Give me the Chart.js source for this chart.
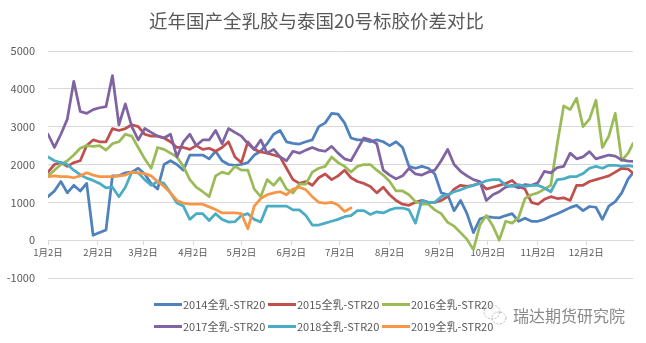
<!DOCTYPE html>
<html>
<head>
<meta charset="utf-8">
<script src="https://cdn.jsdelivr.net/npm/chart.js@4.4.1/dist/chart.umd.min.js"></script>
<style>
  html, body { margin: 0; padding: 0; background: #ffffff; }
  #wrap { position: relative; width: 646px; height: 343px; overflow: hidden; }
  #c { position: absolute; left: 0; top: 0; }
  .lg { position: absolute; height: 14px; font: 11px 'Noto Sans CJK SC', sans-serif; color: #595959; white-space: nowrap; }
  .lg .sw { position: absolute; left: 0; top: 6px; width: 28px; height: 3px; }
  .lg .tx { position: absolute; left: 29px; top: -1px; line-height: 16px; }
  #wm { position: absolute; left: 513px; top: 304px; font: 16px 'Noto Sans CJK SC', sans-serif; color: #8a8a8a; line-height: 22px; white-space: nowrap; }
  #wmi { position: absolute; left: 482px; top: 302px; }
</style>
</head>
<body>
<div id="wrap">
  <canvas id="c" width="646" height="343"></canvas>
  <div id="legend"></div>
  <svg id="wmi" width="28" height="26" viewBox="0 0 28 26">
    <ellipse cx="10" cy="10" rx="8" ry="7" fill="none" stroke="#b5b5b5" stroke-width="1" stroke-dasharray="2 1.5"/>
    <ellipse cx="17" cy="16" rx="7" ry="6" fill="none" stroke="#b5b5b5" stroke-width="1" stroke-dasharray="2 1.5"/>
  </svg>
  <div id="wm">瑞达期货研究院</div>
</div>
<script>
// ---- data ----
const titleText = '近年国产全乳胶与泰国20号标胶价差对比';
const tickDays = [1, 32, 60, 91, 121, 152, 182, 213, 244, 274, 305, 335];
const tickLabels = ['1月2日', '2月2日', '3月2日', '4月2日', '5月2日', '6月2日', '7月2日', '8月2日', '9月2日', '10月2日', '11月2日', '12月2日'];
const days = [1,5,9,13,17,21,25,29,33,37,41,45,49,53,57,61,65,69,73,77,81,85,89,93,97,101,105,109,113,117,
  121,125,129,133,137,141,145,149,153,157,161,165,169,173,177,181,185,189,193,197,201,205,209,213,217,221,225,229,233,237,
  241,245,249,253,257,261,265,269,273,277,281,285,289,293,297,301,305,309,313,317,321,325,329,333,337,341,345,349,353,357,
  361,364];
const seriesNames = ['2014全乳-STR20', '2015全乳-STR20', '2016全乳-STR20', '2017全乳-STR20', '2018全乳-STR20', '2019全乳-STR20'];
const v2014 = [1150,1300,1550,1250,1450,1300,1500,130,200,270,
  1700,1700,1780,1800,1900,1750,1500,1350,2000,2100,
  2000,1850,2250,2250,2250,2150,2350,2100,2000,1980,
  2000,2050,2250,2350,2550,2800,2900,2600,2560,2540,
  2600,2650,3000,3100,3350,3330,3100,2700,2650,2650,
  2600,2650,2600,2500,2600,2450,1950,1900,1950,1900,
  1750,1250,1200,780,1050,700,200,560,620,600,
  590,650,700,500,580,500,500,550,630,700,
  780,860,920,780,890,870,550,900,1020,1250,
  1620,1780];
const v2015 = [1800,2000,2050,1950,2050,2100,2500,2650,2600,2600,
  2950,2900,2950,3050,3000,2800,2750,2750,2700,2600,
  2450,2450,2400,2500,2400,2430,2350,2450,2600,2200,
  2050,2600,2400,2330,2300,2250,2200,1900,1600,1500,
  1550,1450,1650,1750,1600,1700,1850,1650,1550,1500,
  1420,1250,1400,1200,1050,950,920,1000,1050,1000,
  1000,1050,1150,1350,1450,1420,1450,1520,1350,1400,
  1450,1500,1580,1420,1350,1000,950,1080,1150,1100,
  1120,1050,1450,1450,1550,1600,1650,1700,1800,1900,
  1880,1770];
const v2016 = [1700,1850,2000,2100,2250,2430,2500,2480,2500,2380,
  2550,2600,2800,2750,2450,2150,1900,2450,2400,2300,
  2200,1950,1600,1400,1280,1150,1700,1800,1750,1950,
  1850,1850,1350,1150,1600,1450,1650,1350,1250,1480,
  1480,1800,1900,1950,2200,2050,1950,1800,1950,2000,
  2000,1850,1720,1550,1300,1300,1200,1020,950,950,
  800,700,470,370,200,20,-250,400,650,380,
  0,500,450,600,1100,1200,1250,1350,1450,2550,
  3550,3450,3750,3000,3200,3700,2450,2750,3350,2100,
  2300,2560];
const v2017 = [2800,2450,2800,3200,4200,3400,3350,3450,3500,3530,
  4350,3050,3600,3000,2650,2950,2850,2750,2700,2800,
  2200,2600,2800,2500,2650,2650,2900,2550,2950,2850,
  2750,2550,2400,2650,2300,2400,2200,2100,2350,2300,
  2380,2450,2380,2350,2480,2300,2150,2100,2400,2700,
  2650,2550,1850,1720,1620,1700,1900,1750,1720,1800,
  1850,2100,2400,2000,1820,1700,1600,1550,1050,1200,
  1280,1400,1450,1380,1470,1450,1520,1820,1780,1920,
  1950,2300,2150,2200,2340,2150,2200,2250,2220,2120,
  2090,2080];
const v2018 = [2200,2100,2050,2000,1850,1730,1640,1580,1500,1380,
  1400,1150,1400,1800,1780,1600,1450,1550,1500,1250,
  980,900,550,700,700,520,700,550,480,490,
  650,700,550,480,900,900,900,900,800,800,
  650,400,400,450,500,550,620,650,780,780,
  680,750,720,800,850,850,800,450,1050,1000,
  1000,1150,1200,1280,1330,1400,1450,1500,1570,1600,
  1600,1450,1420,1470,1420,1450,1450,1380,1280,1600,
  1620,1680,1680,1760,1900,1950,1900,1980,1980,1950,
  1970,1950];
const v2019 = [1680,1700,1680,1680,1650,1700,1780,1720,1680,1680,
  1680,1700,1720,1800,1780,1760,1700,1550,1420,1250,
  1050,980,950,950,950,880,810,720,720,720,
  700,300,900,1100,1200,1250,1280,1200,1350,1400,
  1330,1150,1000,980,1000,930,760,850];
const seriesValues = [v2014, v2015, v2016, v2017, v2018, v2019];
const seriesColors = ['#4F81BD', '#C0504D', '#9BBB59', '#8064A2', '#4BACC6', '#F79646'];
const yTicks = [-1000, 0, 1000, 2000, 3000, 4000, 5000];

// ---- chart ----
const CJK = "'Noto Sans CJK SC', 'Noto Sans', sans-serif";
const datasets = seriesValues.map((vals, k) => ({
  label: seriesNames[k],
  data: vals.map((v, i) => ({ x: days[i], y: v })),
  borderColor: seriesColors[k],
  backgroundColor: seriesColors[k],
  borderWidth: 2.75,
  pointRadius: 0,
  pointHoverRadius: 0,
  tension: 0,
  fill: false,
  borderJoinStyle: 'round',
  borderCapStyle: 'round',
  order: seriesValues.length - k
}));

new Chart(document.getElementById('c'), {
  type: 'line',
  data: { datasets },
  options: {
    responsive: false,
    animation: false,
    devicePixelRatio: 1,
    layout: { padding: { left: 0, right: 13, top: 0, bottom: 65 } },
    plugins: {
      legend: { display: false },
      tooltip: { enabled: false },
      title: {
        display: true,
        text: titleText,
        color: '#595959',
        font: { family: CJK, size: 18.5, weight: 'normal' },
        padding: { top: 10, bottom: 18.8 }
      }
    },
    scales: {
      x: {
        type: 'linear',
        position: { y: 0 },
        min: 1,
        max: 364,
        afterBuildTicks: (s) => { s.ticks = tickDays.map(v => ({ value: v })); },
        ticks: {
          autoSkip: false,
          maxRotation: 0,
          minRotation: 0,
          padding: 3,
          color: '#595959',
          font: { family: CJK, size: 9.5 },
          callback: (v, i) => tickLabels[i]
        },
        grid: { drawOnChartArea: false, drawTicks: true, tickLength: 4, color: '#d9d9d9' },
        border: { display: true, color: '#d9d9d9', width: 1 }
      },
      y: {
        position: 'left',
        min: -1000,
        max: 5000,
        afterBuildTicks: (s) => { s.ticks = yTicks.map(v => ({ value: v })); },
        afterFit: (s) => { s.width = 48; },
        ticks: {
          padding: 13,
          color: '#595959',
          font: { family: CJK, size: 11 },
          callback: (v) => String(v)
        },
        grid: { color: '#d9d9d9', drawTicks: false, lineWidth: 1 },
        border: { display: false }
      }
    }
  }
});

// ---- legend (HTML) ----
const legendCols = [154, 268, 382];
const legendRows = [297, 319];
const lgRoot = document.getElementById('legend');
seriesNames.forEach((name, k) => {
  const d = document.createElement('div');
  d.className = 'lg';
  d.style.left = legendCols[k % 3] + 'px';
  d.style.top = legendRows[Math.floor(k / 3)] + 'px';
  const sw = document.createElement('div');
  sw.className = 'sw';
  sw.style.background = seriesColors[k];
  const tx = document.createElement('span');
  tx.className = 'tx';
  tx.textContent = name;
  d.appendChild(sw); d.appendChild(tx);
  lgRoot.appendChild(d);
});
</script>
</body>
</html>
